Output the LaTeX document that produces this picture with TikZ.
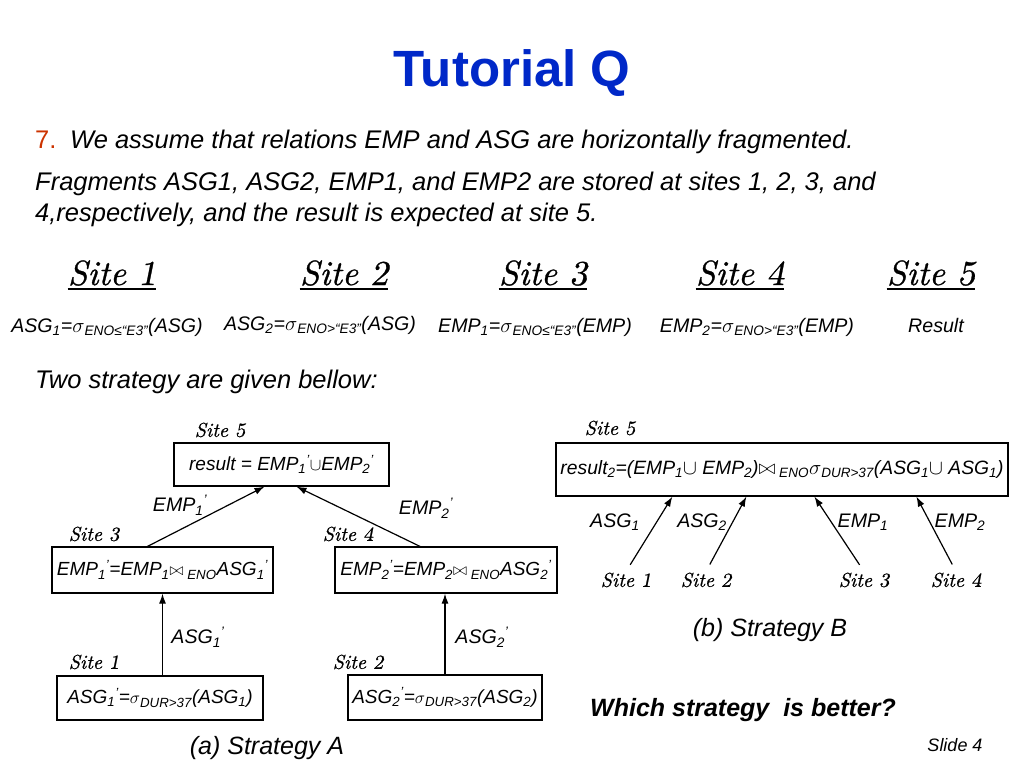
\documentclass[tikz,border=0pt]{standalone}
\usepackage{fontspec}
\setsansfont{Liberation Sans}
\newfontfamily\sitefont{lmroman10-italic.otf}[FakeBold=0.8]
\newfontfamily\sitedigit{lmroman10-regular.otf}[FakeSlant=0.2,FakeBold=0.8]
\usepackage{tikz}
\usetikzlibrary{calc}
\usetikzlibrary{arrows.meta, positioning}
\definecolor{titleblue}{RGB}{0,40,200}
\definecolor{itemred}{RGB}{204,51,0}
\newcommand{\subpr}[1]{\textsubscript{#1}\textsuperscript{'}}
\newcommand{\sitename}[1]{\sitefont Site {\sitedigit #1}}

\begin{document}
\begin{tikzpicture}[x=1pt,y=-1pt,
    title/.style={font=\fontsize{51}{60}\selectfont\sffamily\bfseries, text=titleblue},
    body/.style={font=\fontsize{25.5}{30}\selectfont\sffamily\itshape, anchor=base west, inner sep=0pt},
    head/.style={font=\fontsize{35}{42}\selectfont, anchor=base, inner sep=0pt},
    formula/.style={font=\fontsize{19.6}{24}\selectfont\sffamily\itshape, inner sep=0pt},
    sitelbl/.style={font=\fontsize{20}{24}\selectfont, inner sep=1pt},
    opbox/.style={draw, line width=1.2pt, formula, font=\fontsize{19}{23}\selectfont\sffamily\itshape},
    flow/.style={-{Latex[length=10pt,width=7pt]}, line width=1.2pt}]

\useasboundingbox (0,0) rectangle (1024,768);

% Title and question
\node[title] (title) at (512,73) {Tutorial Q};
\node[body, text=itemred, font=\fontsize{25.5}{30}\selectfont\sffamily] (num) at (35,148) {7.};
\node[body] (line1) at (70,148) {We assume that relations EMP and ASG are horizontally fragmented.};
\node[body] (line2) at (35,190) {Fragments ASG1, ASG2, EMP1, and EMP2 are stored at sites 1, 2, 3, and};
\node[body] (line3) at (35,221) {4,respectively, and the result is expected at site 5.};

% Sites and fragments
\foreach \n/\x in {1/112,2/344,3/543,4/740,5/931}
{
    \node[head] (site\n) at (\x,285) {\sitename{\n}};
    \draw[line width=1.5pt] ($(site\n.base west)+(0,4)$) -- ($(site\n.base east)+(0,4)$);
}
\node[formula, anchor=base] (frag1) at (107,332) {ASG\textsubscript{1}=$\sigma$\textsubscript{ENO≤“E3”}(ASG)};
\node[formula, anchor=base] (frag2) at (320,330) {ASG\textsubscript{2}=$\sigma$\textsubscript{ENO>“E3”}(ASG)};
\node[formula, anchor=base] (frag3) at (535,332) {EMP\textsubscript{1}=$\sigma$\textsubscript{ENO≤“E3”}(EMP)};
\node[formula, anchor=base] (frag4) at (757,332) {EMP\textsubscript{2}=$\sigma$\textsubscript{ENO>“E3”}(EMP)};
\node[formula, anchor=base] (frag5) at (936,332) {Result};

\node[body] (line4) at (35,388) {Two strategy are given bellow:};

% Strategy A
\node[opbox, minimum width=215pt, minimum height=43pt] (resA) at (281.5,464.5) {result = EMP\subpr{1}$\cup$EMP\subpr{2}};
\node[opbox, minimum width=221pt, minimum height=46pt] (e1) at (162.5,570) {EMP\subpr{1}=EMP\textsubscript{1}$\bowtie$\textsubscript{ ENO}ASG\subpr{1}};
\node[opbox, minimum width=222pt, minimum height=46pt] (e2) at (446,570) {EMP\subpr{2}=EMP\textsubscript{2}$\bowtie$\textsubscript{ ENO}ASG\subpr{2}};
\node[opbox, minimum width=206pt, minimum height=44pt] (a1) at (160,698) {ASG\subpr{1}=$\sigma$\textsubscript{DUR>37}(ASG\textsubscript{1})};
\node[opbox, minimum width=194pt, minimum height=45pt] (a2) at (445,697.5) {ASG\subpr{2}=$\sigma$\textsubscript{DUR>37}(ASG\textsubscript{2})};

\node[sitelbl] (sA5) at (220,430) {\sitename{5}};
\node[sitelbl] (sA3) at (94,534) {\sitename{3}};
\node[sitelbl] (sA4) at (348,534) {\sitename{4}};
\node[sitelbl] (sA1) at (94,662) {\sitename{1}};
\node[sitelbl] (sA2) at (358,662) {\sitename{2}};

\node[formula] (tA1) at (180,505) {EMP\subpr{1}};
\node[formula] (tA2) at (426,508) {EMP\subpr{2}};
\node[formula] (tA3) at (198,637) {ASG\subpr{1}};
\node[formula] (tA4) at (482,637) {ASG\subpr{2}};

\draw[flow] ($(e1.north)+(-15,0)$) -- ($(resA.south)+(-17,0)$);
\draw[flow] ($(e2.north)+(-26,0)$) -- ($(resA.south)+(15,0)$);
\draw[flow] (e1.south |- a1.north) -- (e1.south);
\draw[flow] (a2.north) -- (a2.north |- e2.south);

\node[formula, font=\fontsize{25}{30}\selectfont\sffamily\itshape] (capA) at (267,748) {(a) Strategy A};

% Strategy B
\node[opbox, font=\fontsize{19.3}{23}\selectfont\sffamily\itshape, minimum width=452pt, minimum height=53pt] (resB) at (782,469.5) {result\textsubscript{2}=(EMP\textsubscript{1}$\cup$ EMP\textsubscript{2})$\bowtie$\textsubscript{ ENO}$\sigma$\textsubscript{DUR>37}(ASG\textsubscript{1}$\cup$ ASG\textsubscript{1})};
\node[sitelbl] (sB5) at (610,428) {\sitename{5}};

\foreach \s/\x/\dx in {1/626/117,2/706/191,3/864/259,4/956/361}
{
    \node[sitelbl] (sB\s) at (\x,580) {\sitename{\s}};
    \draw[flow, shorten <=8pt] (sB\s.north) -- ($(resB.south west)+(\dx,0)$);
}

\node[formula] (tB1) at (615,522) {ASG\textsubscript{1}};
\node[formula] (tB2) at (702,522) {ASG\textsubscript{2}};
\node[formula] (tB3) at (863,522) {EMP\textsubscript{1}};
\node[formula] (tB4) at (960,522) {EMP\textsubscript{2}};

\node[formula, font=\fontsize{25}{30}\selectfont\sffamily\itshape] (capB) at (770,630) {(b) Strategy B};

% Closing question
\node[formula, font=\fontsize{25}{30}\selectfont\sffamily\bfseries\itshape] (ask) at (743,710) {Which strategy \ is better?};
\node[formula, font=\fontsize{18}{22}\selectfont\sffamily\itshape] (slide) at (955,745) {Slide 4};

\end{tikzpicture}
\end{document}
